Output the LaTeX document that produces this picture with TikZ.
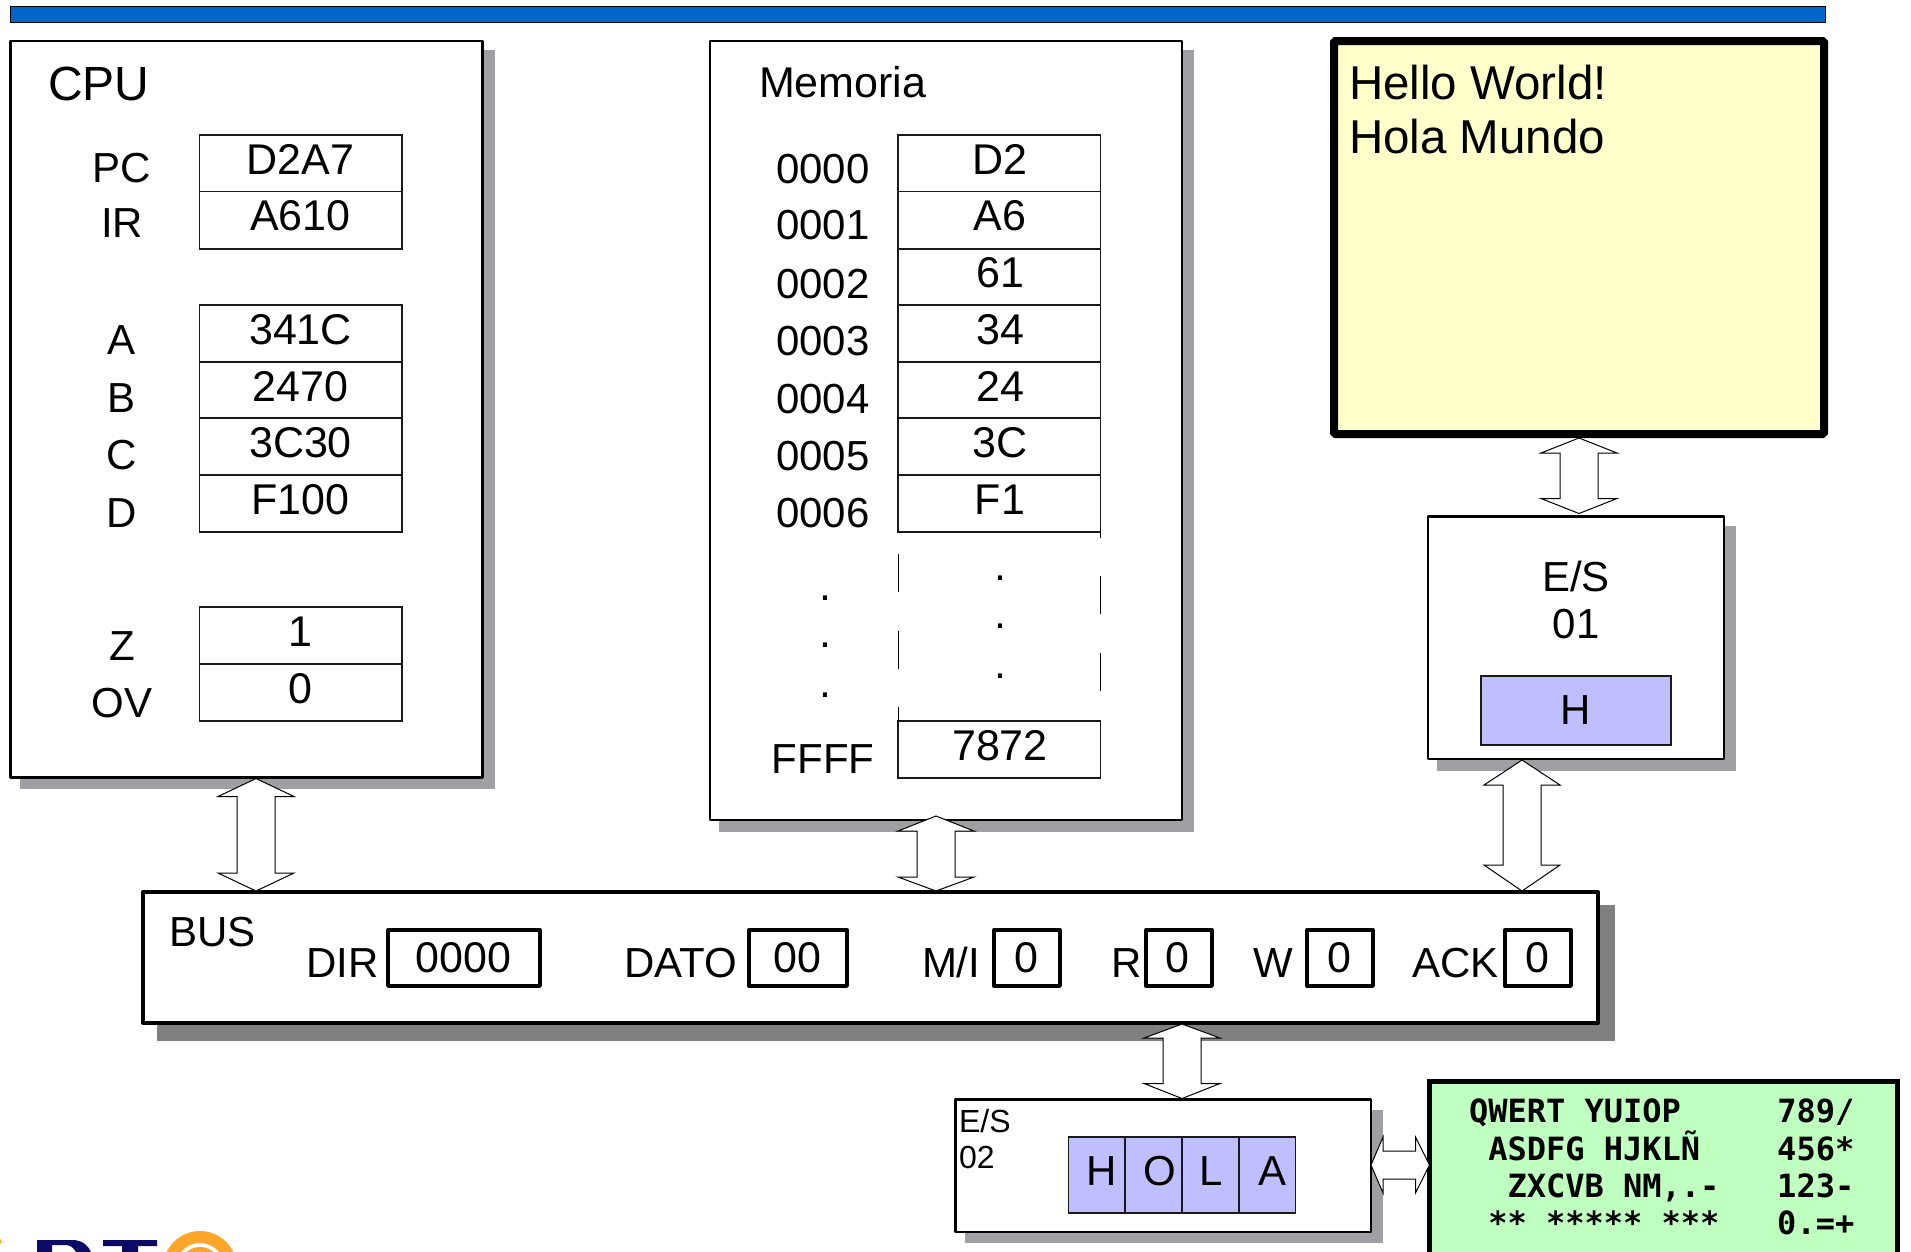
\documentclass[tikz,border=0pt]{standalone}
\usepackage{fontspec}
\setmainfont{Liberation Sans}
\setmonofont{DejaVu Sans Mono}
\usetikzlibrary{fit,calc}
\definecolor{shadowA}{HTML}{A0A0A4}
\definecolor{shadowB}{HTML}{808080}
\definecolor{barblue}{HTML}{0066CC}
\definecolor{screenY}{HTML}{FFFFCC}
\definecolor{keyG}{HTML}{BFFFBF}
\definecolor{regB}{HTML}{BFBFFF}
\definecolor{logoO}{HTML}{FBA62B}
\definecolor{logoN}{HTML}{0B0B66}
\tikzset{
  x=1pt,y=-1pt,
  box/.style={rectangle,inner sep=0pt,outer sep=0pt},
  panel/.style={box,draw=black,fill=white,line width=2.6pt,line join=round},
  buspanel/.style={box,draw=black,fill=white,line width=4pt,line join=round},
  buscell/.style={box,draw=black,fill=white,line width=3.4pt,line join=round},
  cellbox/.style={box,draw=black!90,fill=white,line width=1.1pt},
  bluecell/.style={box,draw=black!90,fill=regB,line width=1.1pt},
  shadeA/.style={fill=shadowA,draw=none},
  shadeB/.style={fill=shadowB,draw=none},
  biarrow/.style={draw=black,fill=white,line width=1pt,line join=miter},
  tx/.style={inner sep=0pt,outer sep=0pt,anchor=base,font=\fontsize{43}{50}\selectfont},
  lab/.style={tx,font=\fontsize{42}{50}\selectfont},
  txl/.style={tx,anchor=base west},
  labl/.style={lab,anchor=base west},
  big/.style={font=\fontsize{48}{54}\selectfont},
  small/.style={font=\fontsize{32}{36}\selectfont},
  keys/.style={inner sep=0pt,outer sep=0pt,anchor=base west,font=\fontsize{32}{38}\ttfamily\bfseries\selectfont},
  dash line/.style={draw=black,line width=1pt},
}
\newcommand\vbi[7]{% x, from node, tip offset, to node, tip offset, head lengths
  \coordinate (X#1) at (#1,0);
  \draw[biarrow] let \p1=($(X#1 |- #2)+(0,#3)$), \p2=($(X#1 |- #4)+(0,#5)$) in
    (\x1,\y1) -- (\x1+38pt,\y1-#6pt) -- (\x1+19pt,\y1-#6pt) -- (\x1+19pt,\y2+#7pt) -- (\x1+38pt,\y2+#7pt)
    -- (\x1,\y2) -- (\x1-38pt,\y2+#7pt) -- (\x1-19pt,\y2+#7pt) -- (\x1-19pt,\y1-#6pt) -- (\x1-38pt,\y1-#6pt) -- cycle;
}
\begin{document}
\begin{tikzpicture}
\useasboundingbox (0,0) rectangle (1911,1251);
\clip (0,0) rectangle (1911,1251);

% top bar
\node[box,draw=black,fill=barblue,line width=1pt,fit={(10.5,6.5) (1825,22)}] (bar) {};

% logo fragments
\begin{scope}
\fill[logoO] (0,1238) -- (2,1243) -- (0,1243) -- cycle;
\fill[logoN] (37,1240) -- (72,1240) .. controls (82,1240) and (88,1245) .. (91,1252) -- (76,1252)
  .. controls (73,1247) and (70,1245) .. (65,1245) -- (52,1245) -- (52,1252) -- (37,1252) -- cycle;
\fill[logoN] (103,1240) -- (157,1240) -- (157,1246) -- (138,1246) -- (138,1252) -- (122,1252) -- (122,1246) -- (103,1246) -- cycle;
\fill[logoO,even odd rule] (200,1268) circle[radius=37] (200,1268) circle[radius=25];
\fill[logoO,even odd rule] (200,1268) circle[radius=21] (200,1268) circle[radius=10];
\end{scope}

% CPU
\fill[shadeA] (20,50) rectangle (495,789);
\node[panel,fit={(10.5,41) (482.5,777.5)}] (cpu) {};
\node[txl,big] (tcpu) at (48,100.5) {CPU};
\node[cellbox,fit={(199.5,135) (402,191.5)}] (pc) {};
\node[cellbox,fit={(199.5,191.5) (402,249)}] (ir) {};
\node[cellbox,fit={(199.5,305) (402,362)}] (ra) {};
\node[cellbox,fit={(199.5,362) (402,418)}] (rb) {};
\node[cellbox,fit={(199.5,418) (402,475)}] (rc) {};
\node[cellbox,fit={(199.5,475) (402,532)}] (rd) {};
\node[cellbox,fit={(199.5,607) (402,664)}] (rz) {};
\node[cellbox,fit={(199.5,664) (402,721)}] (rov) {};
\node[tx] (vpc) at (300.5,174) {D2A7};
\node[tx] (vir) at (300.5,230) {A610};
\node[tx] (va) at (300.5,344) {341C};
\node[tx] (vb) at (300.5,401) {2470};
\node[tx] (vc) at (300.5,457) {3C30};
\node[tx] (vd) at (300.5,514) {F100};
\node[tx] (vz) at (300.5,646) {1};
\node[tx] (vov) at (300.5,703) {0};
\node[lab] (lpc) at (122,182) {PC};
\node[lab] (lir) at (122,237.5) {IR};
\node[lab] (la) at (122,354.5) {A};
\node[lab] (lb) at (122,412.5) {B};
\node[lab] (lc) at (122,469.5) {C};
\node[lab] (ld) at (122,527) {D};
\node[lab] (lz) at (122,660) {Z};
\node[lab] (lov) at (122,717) {OV};

% Memoria
\fill[shadeA] (719,50) rectangle (1194,832);
\node[panel,fit={(710,41) (1182,820)}] (mem) {};
\node[txl] (tmem) at (759,97) {Memoria};
\node[cellbox,fit={(898,135) (1100.5,191.5)}] (m0) {};
\node[cellbox,fit={(898,191.5) (1100.5,249)}] (m1) {};
\node[cellbox,fit={(898,249) (1100.5,305)}] (m2) {};
\node[cellbox,fit={(898,305) (1100.5,362)}] (m3) {};
\node[cellbox,fit={(898,362) (1100.5,418)}] (m4) {};
\node[cellbox,fit={(898,418) (1100.5,475)}] (m5) {};
\node[cellbox,fit={(898,475) (1100.5,532)}] (m6) {};
\node[cellbox,fit={(898,721) (1100.5,778)}] (mf) {};
\node[tx] (v0) at (1000,174) {D2};
\node[tx] (v1) at (1000,230) {A6};
\node[tx] (v2) at (1000,287) {61};
\node[tx] (v3) at (1000,344) {34};
\node[tx] (v4) at (1000,401) {24};
\node[tx] (v5) at (1000,457) {3C};
\node[tx] (v6) at (1000,514) {F1};
\node[tx] (vf) at (1000,760) {7872};
\node[lab] (a0) at (823,183) {0000};
\node[lab] (a1) at (823,239) {0001};
\node[lab] (a2) at (823,298) {0002};
\node[lab] (a3) at (823,355) {0003};
\node[lab] (a4) at (823,413) {0004};
\node[lab] (a5) at (823,470) {0005};
\node[lab] (a6) at (823,527) {0006};
\node[lab] (af) at (823,773) {FFFF};
\node[tx] (d1) at (825,600) {.};
\node[tx] (d2) at (825,647) {.};
\node[tx] (d3) at (825,697) {.};
\node[tx] (d4) at (1000,580) {.};
\node[tx] (d5) at (1000,628) {.};
\node[tx] (d6) at (1000,678) {.};
\draw[dash line] (898,554) -- (898,592) (898,631) -- (898,669) (898,707) -- (898,721);
\draw[dash line] (1100.5,532) -- (1100.5,538) (1100.5,576) -- (1100.5,614) (1100.5,653) -- (1100.5,691);

% Monitor
\node[box,draw=black,fill=screenY,line width=8pt,rounded corners=1.5pt,fit={(1334,41) (1824,434)}] (mon) {};
\node[txl,font=\fontsize{47.5}{54}\selectfont] (h1) at (1349,99) {Hello World!};
\node[txl,font=\fontsize{47.5}{54}\selectfont] (h2) at (1349,153) {Hola Mundo};

% E/S 01
\fill[shadeA] (1437,526) rectangle (1736,771);
\node[panel,fit={(1428,516.5) (1724,759)}] (es1) {};
\node[lab] (es1a) at (1576,591) {E/S};
\node[lab] (es1b) at (1576,638) {01};
\node[bluecell,fit={(1481,676) (1671,745)}] (es1r) {};
\node[lab] (es1h) at (1576,724) {H};

% BUS
\fill[shadeB] (157,905) rectangle (1615,1041);
\node[buspanel,fit={(143,892) (1598,1023)}] (bus) {};
\node[labl] (tbus) at (169,946) {BUS};
\node[buscell,fit={(388,930) (540,986)}] (bdir) {};
\node[buscell,fit={(749,930) (847,986)}] (bdato) {};
\node[buscell,fit={(994,930) (1060,986)}] (bmi) {};
\node[buscell,fit={(1146,930) (1212,986)}] (br) {};
\node[buscell,fit={(1307,930) (1373,986)}] (bw) {};
\node[buscell,fit={(1505,930) (1571,986)}] (back) {};
\node[tx] (vdir) at (463.5,972) {0000};
\node[tx] (vdato) at (797.5,972) {00};
\node[tx] (vmi) at (1026,972) {0};
\node[tx] (vr) at (1177.5,972) {0};
\node[tx] (vw) at (1339.5,972) {0};
\node[tx] (vack) at (1537,972) {0};
\node[labl] (ldir) at (306,977) {DIR};
\node[labl] (ldato) at (624,977) {DATO};
\node[labl] (lmi) at (922,977) {M/I};
\node[labl] (lr) at (1111,977) {R};
\node[labl] (lw) at (1253,977) {W};
\node[labl] (lack) at (1412,977) {ACK};

% E/S 02
\fill[shadeA] (965,1110) rectangle (1383,1243);
\node[panel,fit={(955.5,1099.5) (1371,1232)}] (es2) {};
\node[txl,small] (es2a) at (959,1132) {E/S};
\node[txl,small] (es2b) at (959,1168) {02};
\node[bluecell,fit={(1068.5,1137) (1125,1213)}] (c1) {};
\node[bluecell,fit={(1125,1137) (1182,1213)}] (c2) {};
\node[bluecell,fit={(1182,1137) (1239,1213)}] (c3) {};
\node[bluecell,fit={(1239,1137) (1295.5,1213)}] (c4) {};
\node[lab] (ch) at (1102,1185) {H};
\node[lab] (co) at (1160,1185) {O};
\node[lab] (cl) at (1211,1185) {L};
\node[lab] (ca) at (1272,1185) {A};

% Keyboard
\node[box,draw=black,fill=keyG,line width=5pt,fit={(1429.5,1081.5) (1897.5,1300)}] (kbd) {};
\node[keys] (k1) at (1469,1122.5) {QWERT~YUIOP~~~~~789/};
\node[keys] (k2) at (1469,1160) {~ASDFG~HJKLÑ~~~~456*};
\node[keys] (k3) at (1469,1197) {~~ZXCVB~NM,.-~~~123-};
\node[keys] (k4) at (1469,1234) {~**~*****~***~~~0.=+};

% double arrows
\vbi{256}{cpu.south}{1}{bus.north}{-1}{18}{18}
\vbi{936}{mem.south}{-4}{bus.north}{-1}{15}{14}
\vbi{1579}{mon.south}{4}{es1.north}{-3}{15}{15}
\vbi{1522}{es1.south}{1}{bus.north}{-1}{25}{26}
\vbi{1182}{bus.south}{1}{es2.north}{-1}{14}{15}
\draw[biarrow] let \p1=(es2.east), \p2=(kbd.west) in
  (\x1,-1165pt) -- (\x1+12pt,-1137pt) -- (\x1+12pt,-1151pt) -- (\x2-14pt,-1151pt) -- (\x2-14pt,-1137pt)
  -- (\x2,-1165pt) -- (\x2-14pt,-1193pt) -- (\x2-14pt,-1179pt) -- (\x1+12pt,-1179pt) -- (\x1+12pt,-1193pt) -- cycle;
\end{tikzpicture}
\end{document}
